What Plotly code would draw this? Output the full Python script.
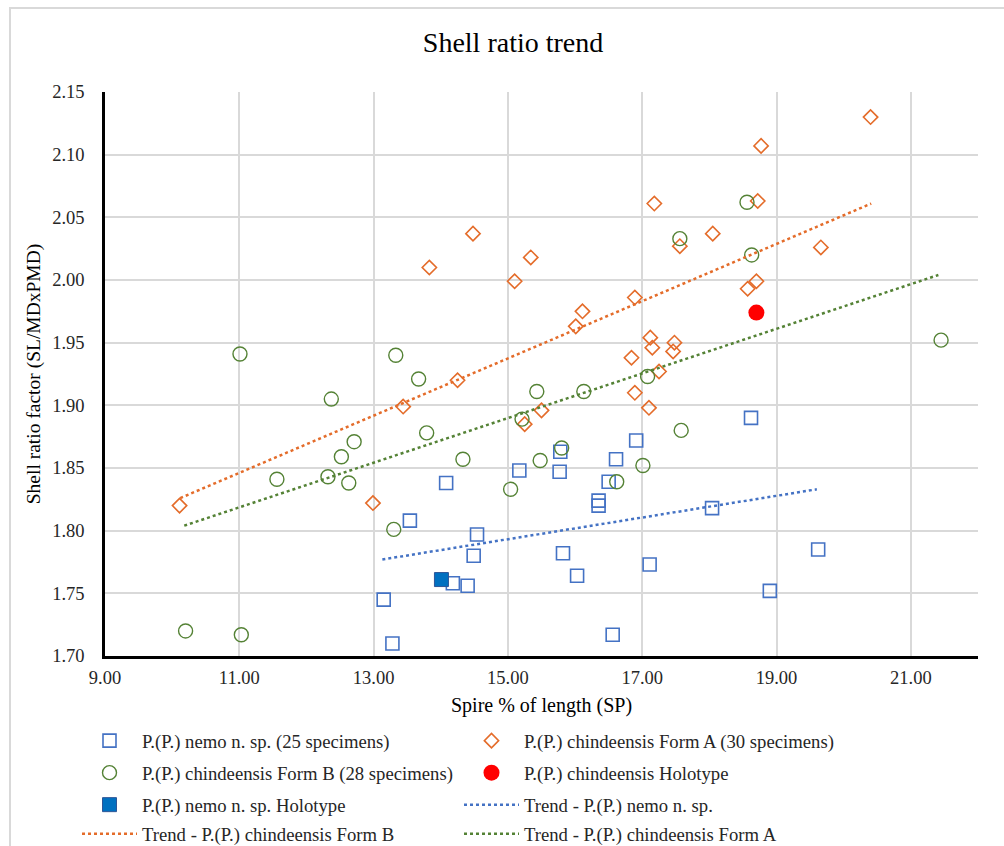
import plotly.graph_objects as go

# ---- data ----
nemo_x = [14.08, 15.17, 15.78, 15.77, 16.61, 16.91, 16.50, 16.35, 16.35, 13.54,
          14.54, 14.49, 15.82, 16.03, 17.11, 14.18, 14.40, 13.15, 13.28, 16.56,
          18.62, 18.04, 19.62, 18.90]
nemo_y = [1.838, 1.848, 1.863, 1.847, 1.857, 1.872, 1.839, 1.824, 1.820, 1.808,
          1.797, 1.780, 1.782, 1.764, 1.773, 1.758, 1.756, 1.745, 1.710, 1.717,
          1.890, 1.818, 1.785, 1.752]

formA_x = [17.18, 14.48, 13.83, 15.34, 15.10, 16.89, 16.11, 16.01, 17.12, 17.15,
           16.84, 14.25, 20.40, 18.77, 18.72, 17.56, 18.05, 19.66, 18.70, 18.57,
           17.48, 17.46, 17.25, 13.44, 15.50, 15.25, 16.89, 17.10, 10.11, 12.99]
formA_y = [2.061, 2.037, 2.010, 2.018, 1.999, 1.986, 1.975, 1.963, 1.954, 1.946,
           1.938, 1.920, 2.130, 2.107, 2.063, 2.027, 2.037, 2.026, 1.999, 1.993,
           1.950, 1.943, 1.927, 1.899, 1.896, 1.885, 1.910, 1.898, 1.820, 1.822]

formB_x = [11.01, 13.33, 13.67, 18.56, 17.56, 18.63, 21.45, 12.37, 12.71, 12.52,
           11.56, 12.32, 12.63, 10.20, 11.03, 15.43, 16.13, 15.21, 17.08, 13.79,
           14.33, 15.48, 15.80, 15.04, 17.01, 16.62, 13.30, 17.58]
formB_y = [1.941, 1.940, 1.921, 2.062, 2.033, 2.020, 1.952, 1.905, 1.871, 1.859,
           1.841, 1.843, 1.838, 1.720, 1.717, 1.911, 1.911, 1.889, 1.923, 1.878,
           1.857, 1.856, 1.866, 1.833, 1.852, 1.839, 1.801, 1.880]

chind_holo_x = [18.70]
chind_holo_y = [1.974]

nemo_holo_x = [14.01]
nemo_holo_y = [1.761]

# trend lines (endpoints)
trend_nemo_x = [13.13, 19.60]
trend_nemo_y = [1.777, 1.833]
trend_orange_x = [10.12, 20.41]
trend_orange_y = [1.826, 2.061]
trend_green_x = [10.18, 21.41]
trend_green_y = [1.804, 2.004]

x_ticks = [9, 11, 13, 15, 17, 19, 21]
y_ticks = [1.70, 1.75, 1.80, 1.85, 1.90, 1.95, 2.00, 2.05, 2.10, 2.15]

BLUE = "#4472C4"
ORANGE = "#E46C2A"
GREEN = "#548235"
FONT = "Liberation Serif"
LEG_FONT = 18.7

fig = go.Figure()
fig.add_trace(go.Scatter(x=nemo_x, y=nemo_y, mode="markers", legend="legend",
                         name="P.(P.) nemo n. sp. (25 specimens)",
                         marker=dict(symbol="square-open", size=13, color=BLUE,
                                     line=dict(width=1.6, color=BLUE))))
fig.add_trace(go.Scatter(x=formA_x, y=formA_y, mode="markers", legend="legend",
                         name="P.(P.) chindeensis Form A (30 specimens)",
                         marker=dict(symbol="diamond-open", size=11, color=ORANGE,
                                     line=dict(width=1.6, color=ORANGE))))
fig.add_trace(go.Scatter(x=formB_x, y=formB_y, mode="markers", legend="legend2",
                         name="P.(P.) chindeensis Form B (28 specimens)",
                         marker=dict(symbol="circle-open", size=14, color=GREEN,
                                     line=dict(width=1.4, color=GREEN))))
fig.add_trace(go.Scatter(x=chind_holo_x, y=chind_holo_y, mode="markers", legend="legend2",
                         name="P.(P.) chindeensis Holotype",
                         marker=dict(symbol="circle", size=16, color="#FF0000")))
fig.add_trace(go.Scatter(x=nemo_holo_x, y=nemo_holo_y, mode="markers", legend="legend3",
                         name="P.(P.) nemo n. sp. Holotype",
                         marker=dict(symbol="square", size=14, color="#0070C0",
                                     line=dict(width=1, color="#2E5597"))))
fig.add_trace(go.Scatter(x=trend_nemo_x, y=trend_nemo_y, mode="lines", legend="legend3",
                         name="Trend - P.(P.) nemo n. sp.",
                         line=dict(color=BLUE, width=2.5, dash="dot")))
fig.add_trace(go.Scatter(x=trend_orange_x, y=trend_orange_y, mode="lines", legend="legend4",
                         name="Trend - P.(P.) chindeensis Form B",
                         line=dict(color=ORANGE, width=2.5, dash="dot")))
fig.add_trace(go.Scatter(x=trend_green_x, y=trend_green_y, mode="lines", legend="legend4",
                         name="Trend - P.(P.) chindeensis Form A",
                         line=dict(color=GREEN, width=2.5, dash="dot")))

L, R, T, B = 105, 26, 92, 190
W, H = 1004, 846
pw, ph = W - L - R, H - T - B


def leg(row_y):
    return dict(orientation="h", x=(77 - L) / pw, xanchor="left",
                y=(H - B - row_y) / ph, yanchor="middle",
                entrywidth=312, entrywidthmode="pixels",
                traceorder="normal", itemwidth=55,
                font=dict(family=FONT, size=LEG_FONT, color="#262626"),
                bgcolor="rgba(0,0,0,0)")


fig.update_layout(
    width=W, height=H,
    margin=dict(l=L, r=R, t=T, b=B, autoexpand=False),
    paper_bgcolor="white", plot_bgcolor="white",
    font=dict(family=FONT, size=18, color="#262626"),
    title=dict(text="Shell ratio trend", x=0.511, xref="container",
               y=1 - 42 / H, yref="container", yanchor="middle", xanchor="center",
               font=dict(family=FONT, size=28, color="#000000")),
    xaxis=dict(range=[9, 22], tickvals=x_ticks, tickformat=".2f",
               showgrid=True, gridcolor="#D9D9D9", gridwidth=1.5,
               showline=True, linecolor="#000000", linewidth=2.5,
               zeroline=False, ticks="outside", ticklen=3, tickcolor="rgba(0,0,0,0)",
               tickfont=dict(family=FONT, size=18.5, color="#262626"),
               title=dict(text="Spire % of length (SP)", standoff=12,
                          font=dict(family=FONT, size=20, color="#000000"))),
    yaxis=dict(range=[1.70, 2.15], tickvals=y_ticks, tickformat=".2f",
               showgrid=True, gridcolor="#D9D9D9", gridwidth=1.5,
               showline=True, linecolor="#000000", linewidth=2.5,
               zeroline=False, ticks="outside", ticklen=14, tickcolor="rgba(0,0,0,0)",
               tickfont=dict(family=FONT, size=18.5, color="#262626"),
               title=dict(text="Shell ratio factor (SL/MDxPMD)", standoff=7,
                          font=dict(family=FONT, size=19.5, color="#000000"))),
    showlegend=True,
    legend=leg(741),
    legend2=leg(773),
    legend3=leg(805),
    legend4=leg(834),
    shapes=[dict(type="rect", xref="paper", yref="paper",
                 x0=(10 - L) / pw, x1=(1010 - L) / pw,
                 y0=(H - B - 860) / ph, y1=(H - B - 8) / ph,
                 line=dict(color="#D9D9D9", width=2), fillcolor="rgba(0,0,0,0)",
                 layer="below")],
)

fig.write_html("out.html")
